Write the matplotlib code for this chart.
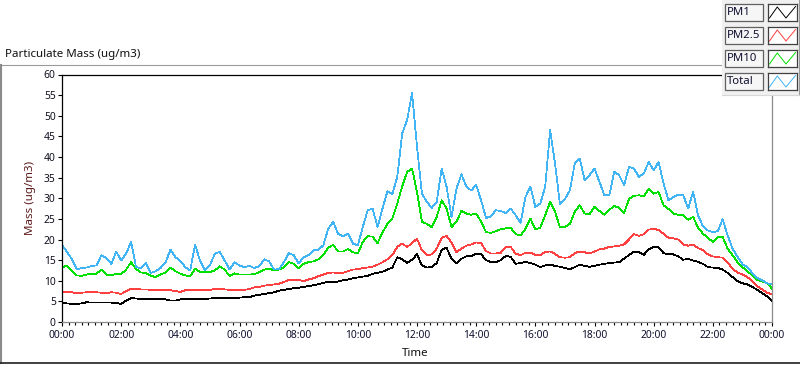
import numpy as np
import matplotlib
matplotlib.use("Agg")
import matplotlib.pyplot as plt
from matplotlib.lines import Line2D
from matplotlib.patches import Rectangle

plt.rcParams['font.family'] = ['Noto Sans', 'DejaVu Sans']

# ---------------- data (10-minute samples, 00:00 -> 24:00) ----------------
step_minutes = 10
series_names = ["PM1", "PM2.5", "PM10", "Total"]
series_colors = ["#000000", "#ff4040", "#00e000", "#40b4f4"]

pm1 = [4.7, 4.5, 4.4, 4.4, 4.5, 4.8, 4.7, 4.7, 4.7, 4.7, 4.7, 4.6,
       4.4, 5.2, 5.8, 5.7, 5.6, 5.6, 5.6, 5.6, 5.6, 5.5, 5.2, 5.2,
       5.5, 5.6, 5.6, 5.6, 5.6, 5.6, 5.7, 5.8, 5.8, 5.9, 5.9, 5.9,
       5.9, 6.0, 6.0, 6.4, 6.6, 6.8, 7.0, 7.2, 7.6, 7.8, 8.0, 8.2,
       8.3, 8.5, 8.7, 8.9, 9.2, 9.5, 9.7, 9.7, 9.8, 10.1, 10.3, 10.6,
       10.8, 11.0, 11.2, 11.7, 11.9, 12.2, 12.7, 13.2, 15.7, 15.2, 14.3, 15.1,
       16.4, 13.7, 13.2, 13.3, 14.3, 17.5, 18.0, 15.3, 14.3, 15.3, 15.9, 16.0,
       16.6, 16.4, 15.0, 14.5, 14.5, 15.0, 16.0, 15.8, 14.1, 14.3, 14.6, 14.3,
       13.9, 13.3, 13.7, 13.9, 13.6, 13.4, 13.1, 12.8, 13.3, 13.9, 13.6, 13.4,
       13.6, 13.9, 14.1, 14.3, 14.4, 14.5, 15.4, 16.2, 17.1, 16.9, 16.3, 17.6,
       18.2, 18.1, 16.7, 16.4, 16.4, 15.9, 15.1, 15.3, 14.9, 14.6, 14.1, 13.3,
       13.2, 13.1, 12.7, 11.9, 10.9, 9.9, 9.4, 9.1, 8.5, 7.8, 7.0, 6.2,
       5.2]

pm25 = [7.4, 7.3, 7.2, 7.0, 7.1, 7.2, 7.2, 7.2, 7.1, 7.0, 7.2, 7.1,
        6.8, 7.5, 8.1, 8.0, 7.9, 7.9, 7.8, 7.8, 7.8, 7.7, 7.7, 7.5,
        7.3, 7.7, 7.8, 7.8, 7.8, 7.8, 7.8, 8.0, 8.1, 7.9, 7.8, 7.8,
        7.8, 7.8, 8.0, 8.4, 8.5, 8.8, 9.0, 9.1, 9.3, 9.7, 10.2, 10.2,
        10.2, 9.9, 10.3, 10.6, 11.1, 11.5, 11.9, 12.0, 11.9, 11.9, 12.3, 12.7,
        12.8, 13.1, 13.2, 13.4, 13.9, 14.5, 15.2, 16.2, 18.2, 19.0, 18.2, 19.1,
        20.2, 17.4, 16.2, 16.4, 17.8, 20.4, 20.9, 19.2, 16.9, 17.8, 18.5, 18.8,
        19.3, 19.1, 17.2, 16.6, 16.6, 16.8, 18.2, 18.2, 16.6, 16.2, 16.8, 16.8,
        16.3, 16.2, 17.0, 17.1, 16.5, 15.7, 15.6, 15.7, 16.7, 17.1, 16.9, 16.6,
        17.1, 17.6, 17.8, 18.2, 18.3, 18.5, 18.8, 20.0, 21.3, 20.9, 21.3, 22.4,
        22.6, 22.3, 21.4, 20.4, 20.3, 20.0, 18.8, 18.5, 18.8, 17.9, 17.4, 16.4,
        15.9, 15.7, 15.6, 14.5, 12.9, 12.0, 11.5, 10.9, 9.9, 8.7, 7.9, 7.1,
        6.7]

pm10 = [13.3, 13.6, 12.3, 11.3, 11.2, 11.5, 11.7, 11.7, 12.7, 11.5, 11.3, 11.7,
        11.6, 12.7, 14.5, 12.9, 12.0, 11.9, 11.2, 10.9, 11.5, 12.0, 13.2, 12.3,
        11.7, 11.3, 11.1, 12.9, 12.1, 12.1, 12.1, 12.5, 13.5, 12.7, 11.1, 11.8,
        11.5, 11.5, 11.5, 11.6, 12.1, 12.7, 13.0, 12.5, 12.7, 13.3, 14.5, 14.1,
        13.0, 14.1, 14.5, 14.7, 15.2, 16.3, 18.0, 18.7, 17.1, 17.1, 17.7, 16.9,
        16.6, 19.4, 20.8, 20.7, 19.1, 21.7, 23.8, 25.1, 28.7, 32.9, 36.4, 37.2,
        31.5, 24.3, 23.8, 23.0, 25.5, 29.5, 27.5, 23.0, 24.3, 26.9, 26.3, 26.0,
        26.3, 24.3, 21.8, 21.6, 22.0, 22.5, 22.7, 22.8, 21.3, 21.0, 22.6, 25.1,
        22.4, 22.9, 25.9, 29.1, 26.7, 22.9, 23.0, 23.8, 26.7, 28.3, 26.3, 26.1,
        27.9, 26.9, 26.0, 27.2, 28.1, 27.7, 26.4, 29.8, 30.6, 30.7, 30.5, 32.2,
        31.1, 31.5, 28.3, 27.4, 26.3, 26.0, 25.9, 24.8, 25.5, 22.9, 21.4, 20.4,
        19.4, 20.6, 20.6, 17.8, 16.2, 14.5, 13.3, 12.3, 11.3, 10.2, 9.8, 9.4,
        8.1]

total = [18.6, 17.0, 15.3, 12.7, 13.1, 13.2, 13.6, 13.7, 16.2, 15.5, 14.1, 17.0,
         14.9, 16.6, 19.4, 13.4, 13.0, 14.3, 11.9, 12.3, 13.1, 14.5, 17.5, 15.7,
         14.8, 13.3, 12.5, 18.8, 14.8, 12.5, 13.7, 16.6, 17.0, 14.9, 12.7, 14.5,
         13.7, 13.3, 13.6, 13.1, 13.5, 15.2, 14.7, 12.7, 12.8, 14.5, 16.7, 16.2,
         14.2, 15.7, 16.2, 17.4, 17.5, 18.6, 22.6, 24.3, 21.4, 20.8, 21.4, 19.0,
         18.6, 23.0, 27.1, 27.5, 23.0, 27.5, 31.7, 31.0, 35.2, 45.7, 49.0, 55.5,
         42.5, 31.1, 29.1, 27.7, 29.1, 37.2, 32.8, 25.5, 32.3, 35.8, 32.8, 31.9,
         33.2, 29.5, 25.2, 25.6, 27.1, 26.9, 26.4, 27.5, 25.9, 24.0, 30.3, 32.8,
         27.9, 28.7, 32.8, 46.5, 38.4, 28.5, 29.8, 31.9, 38.4, 39.6, 34.4, 35.6,
         37.2, 34.0, 30.7, 30.7, 36.4, 35.6, 33.2, 37.6, 37.2, 35.2, 36.0, 38.8,
         36.8, 38.8, 33.6, 29.5, 30.3, 30.9, 30.7, 27.5, 31.6, 25.9, 23.2, 22.2,
         21.8, 22.0, 24.9, 21.0, 17.8, 15.8, 14.0, 13.3, 11.9, 10.7, 10.1, 9.4,
         9.1]

x_major_hours = list(range(0, 25, 2))
x_tick_labels = ["%02d:00" % (h % 24) for h in x_major_hours]
y_ticks = list(range(0, 61, 5))

series_values = [pm1, pm25, pm10, total]
hours = np.arange(len(total)) * step_minutes / 60.0

# ---------------- figure ----------------
W, H = 800, 365
fig = plt.figure(figsize=(W / 100, H / 100), dpi=100)
fig.patch.set_facecolor("white")

def fx(x):
    return x / W

def fy(y):
    return 1 - y / H

# outer sunken frame
fig.add_artist(Line2D([fx(0), fx(722)], [fy(65), fy(65)], color="#9a9a9a", lw=0.8))
fig.add_artist(Line2D([fx(1), fx(1)], [fy(65), fy(363)], color="#8a8a8a", lw=1.5))
fig.add_artist(Line2D([fx(0), fx(800)], [fy(363), fy(363)], color="#202020", lw=1.2))

L, R, T, B = 62, 772, 74.5, 322
ax = fig.add_axes([fx(L), fy(B), fx(R) - fx(L), fy(T) - fy(B)])
ax.set_facecolor("white")

for name, vals, col in zip(series_names, series_values, series_colors):
    ax.plot(hours, vals, color=col, lw=0.55, label=name, antialiased=False)

ax.set_xlim(0, 24)
ax.set_ylim(0, 60)
ax.set_xticks(x_major_hours)
ax.set_xticklabels(x_tick_labels)
ax.set_xticks(np.arange(0, 24.0001, 2 / 9), minor=True)
ax.set_yticks(y_ticks)
ax.set_yticklabels([str(v) for v in y_ticks])

ax.tick_params(axis="x", which="major", direction="out", length=3.0, width=0.8,
               color="black", labelsize=7.4, labelcolor="#101030", pad=3)
ax.tick_params(axis="x", which="minor", direction="out", length=2.0, width=0.8,
               color="black")
ax.tick_params(axis="y", which="major", direction="out", length=3.0, width=0.8,
               color="black", labelsize=7.4, labelcolor="#101020", pad=1.5)

for side in ("left", "top"):
    ax.spines[side].set_color("black")
    ax.spines[side].set_linewidth(0.9)
for side in ("right", "bottom"):
    ax.spines[side].set_color("#8a8a8a")
    ax.spines[side].set_linewidth(0.9)

fig.text(fx(5), fy(55), "Particulate Mass (ug/m3)", ha="left", va="center",
         fontsize=8.3, color="#101010")
fig.text(fx(31), fy(198), "Mass (ug/m3)", rotation=90, ha="center", va="center",
         fontsize=8.3, color="#5c1a1a")
fig.text(fx(415), fy(353), "Time", ha="center", va="center", fontsize=8.3,
         color="#101010")

# ---------------- legend (LabVIEW style plot legend) ----------------
fig.add_artist(Rectangle((fx(722), fy(95)), fx(800) - fx(722), fy(0) - fy(95),
                         transform=fig.transFigure, facecolor="#f0f0f0",
                         edgecolor="none", zorder=5))
fig.add_artist(Line2D([fx(799), fx(799)], [fy(0), fy(95)], color="#9a9a9a",
                      lw=0.8, zorder=6))
fig.add_artist(Line2D([fx(722), fx(800)], [fy(95), fy(95)], color="#d8d8d8",
                      lw=0.8, zorder=6))

row_tops = [4, 27, 50, 73]
box_h = 16.5
for name, col, top in zip(series_names, series_colors, row_tops):
    fig.add_artist(Rectangle((fx(725), fy(top + box_h)), fx(763) - fx(725),
                             fy(top) - fy(top + box_h), transform=fig.transFigure,
                             facecolor="#f6f6f6", edgecolor="#606060", lw=0.9,
                             zorder=7))
    fig.text(fx(727), fy(top + box_h / 2 + 0.5), name, ha="left", va="center",
             fontsize=8.2, color="#101030", zorder=8)
    sw = fig.add_axes([fx(768), fy(top + box_h), fx(797) - fx(768),
                       fy(top) - fy(top + box_h)], zorder=9)
    sw.set_facecolor("white")
    sw.plot([0.05, 0.32, 0.62, 0.95], [0.15, 0.82, 0.15, 0.85], color=col, lw=0.7)
    sw.set_xlim(0, 1)
    sw.set_ylim(0, 1)
    sw.set_xticks([])
    sw.set_yticks([])
    for s in sw.spines.values():
        s.set_color("#404040")
        s.set_linewidth(0.9)

fig.savefig("out.png", dpi=100, facecolor="white")
